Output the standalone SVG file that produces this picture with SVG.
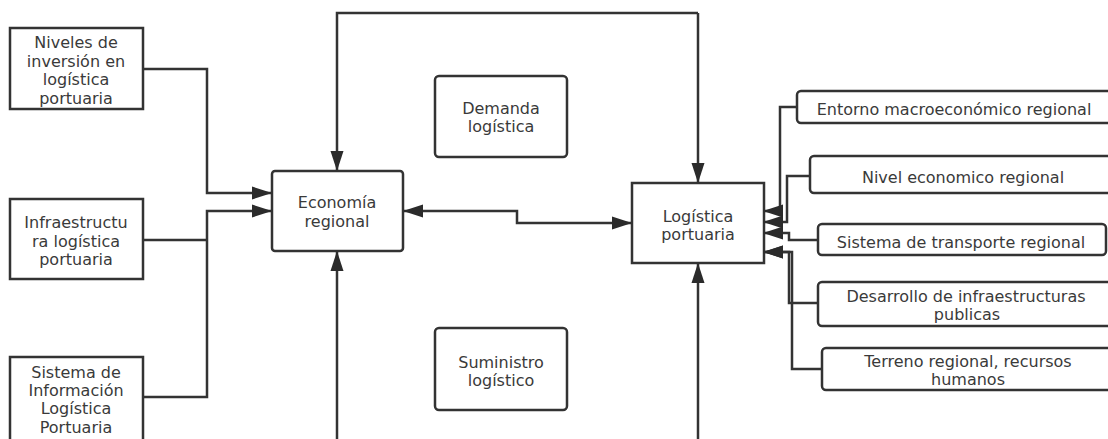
<svg xmlns="http://www.w3.org/2000/svg" width="1108" height="439" viewBox="0 0 1108 439">
<defs>
<marker id="ah" markerUnits="userSpaceOnUse" markerWidth="20" markerHeight="14" refX="20" refY="7" orient="auto">
<path d="M0,0.5 L20,7 L0,13.5 z" fill="#2b2b2b"/>
</marker>
<marker id="ahs" markerUnits="userSpaceOnUse" markerWidth="20" markerHeight="14" refX="0" refY="7" orient="auto">
<path d="M20,0.5 L0,7 L20,13.5 z" fill="#2b2b2b"/>
</marker>
</defs>
<style>
.box{fill:#fff;stroke:#333;stroke-width:2.5}
.t{font-family:"DejaVu Sans",sans-serif;font-size:16px;fill:#3a3a3a;text-anchor:middle}
.c{fill:none;stroke:#333;stroke-width:2.5}
</style>
<rect width="1108" height="439" fill="#fff"/>

<g id="n-niveles">
<rect class="box" x="10" y="28" width="133" height="81"/>
<text class="t" x="76" y="48">Niveles de</text>
<text class="t" x="76" y="67">inversión en</text>
<text class="t" x="76" y="85">logística</text>
<text class="t" x="76" y="104">portuaria</text>
</g>
<g id="n-infra">
<rect class="box" x="10" y="199" width="133" height="80"/>
<text class="t" x="76" y="228">Infraestructu</text>
<text class="t" x="76" y="247">ra logística</text>
<text class="t" x="76" y="265">portuaria</text>
</g>
<g id="n-sistema-info">
<rect class="box" x="10" y="357" width="133" height="90"/>
<text class="t" x="76" y="378">Sistema de</text>
<text class="t" x="76" y="396">Información</text>
<text class="t" x="76" y="414">Logística</text>
<text class="t" x="76" y="433">Portuaria</text>
</g>
<g id="n-economia">
<rect class="box" x="272" y="171" width="131" height="80" rx="3"/>
<text class="t" x="337" y="208">Economía</text>
<text class="t" x="337" y="227">regional</text>
</g>
<g id="n-demanda">
<rect class="box" x="435" y="76" width="132" height="81" rx="4"/>
<text class="t" x="501" y="114">Demanda</text>
<text class="t" x="501" y="132">logística</text>
</g>
<g id="n-suministro">
<rect class="box" x="435" y="328" width="132" height="82" rx="4"/>
<text class="t" x="501" y="368">Suministro</text>
<text class="t" x="501" y="386">logístico</text>
</g>
<g id="n-logistica">
<rect class="box" x="632" y="183" width="132" height="80"/>
<text class="t" x="698" y="222">Logística</text>
<text class="t" x="698" y="240">portuaria</text>
</g>
<g id="n-entorno">
<rect class="box" x="797" y="91" width="320" height="32" rx="4"/>
<text class="t" x="954" y="115">Entorno macroeconómico regional</text>
</g>
<g id="n-nivel">
<rect class="box" x="810" y="156" width="310" height="37" rx="4"/>
<text class="t" x="963" y="183">Nivel economico regional</text>
</g>
<g id="n-transporte">
<rect class="box" x="818" y="224" width="288" height="31" rx="4"/>
<text class="t" x="961" y="248">Sistema de transporte regional</text>
</g>
<g id="n-desarrollo">
<rect class="box" x="818" y="282" width="300" height="44" rx="4"/>
<text class="t" x="966" y="302">Desarrollo de infraestructuras</text>
<text class="t" x="967" y="320">publicas</text>
</g>
<g id="n-terreno">
<rect class="box" x="822" y="348" width="300" height="42" rx="4"/>
<text class="t" x="968" y="367">Terreno regional, recursos</text>
<text class="t" x="968" y="385">humanos</text>
</g>

<g id="connectors">
<path class="c" d="M143,69 H207 V193 H272" marker-end="url(#ah)"/>
<path class="c" d="M143,240 H207"/>
<path class="c" d="M143,397 H207 V211 H272" marker-end="url(#ah)"/>
<path class="c" d="M698,13 H337 V171" marker-end="url(#ah)"/>
<path class="c" d="M698,13 V183" marker-end="url(#ah)"/>
<path class="c" d="M337,439 V251" marker-end="url(#ah)"/>
<path class="c" d="M698,439 V263" marker-end="url(#ah)"/>
<path class="c" d="M403,211 H517 V223 H632" marker-start="url(#ahs)" marker-end="url(#ah)"/>
<path class="c" d="M797,107 H780 V211 H763" marker-end="url(#ah)"/>
<path class="c" d="M810,176 H787 V222 H763" marker-end="url(#ah)"/>
<path class="c" d="M818,240 H789 V233 H763" marker-end="url(#ah)"/>
<path class="c" d="M818,303 H789 V252 H763" marker-end="url(#ah)"/>
<path class="c" d="M822,369 H792 V252 H763" marker-end="url(#ah)"/>
</g>
</svg>
